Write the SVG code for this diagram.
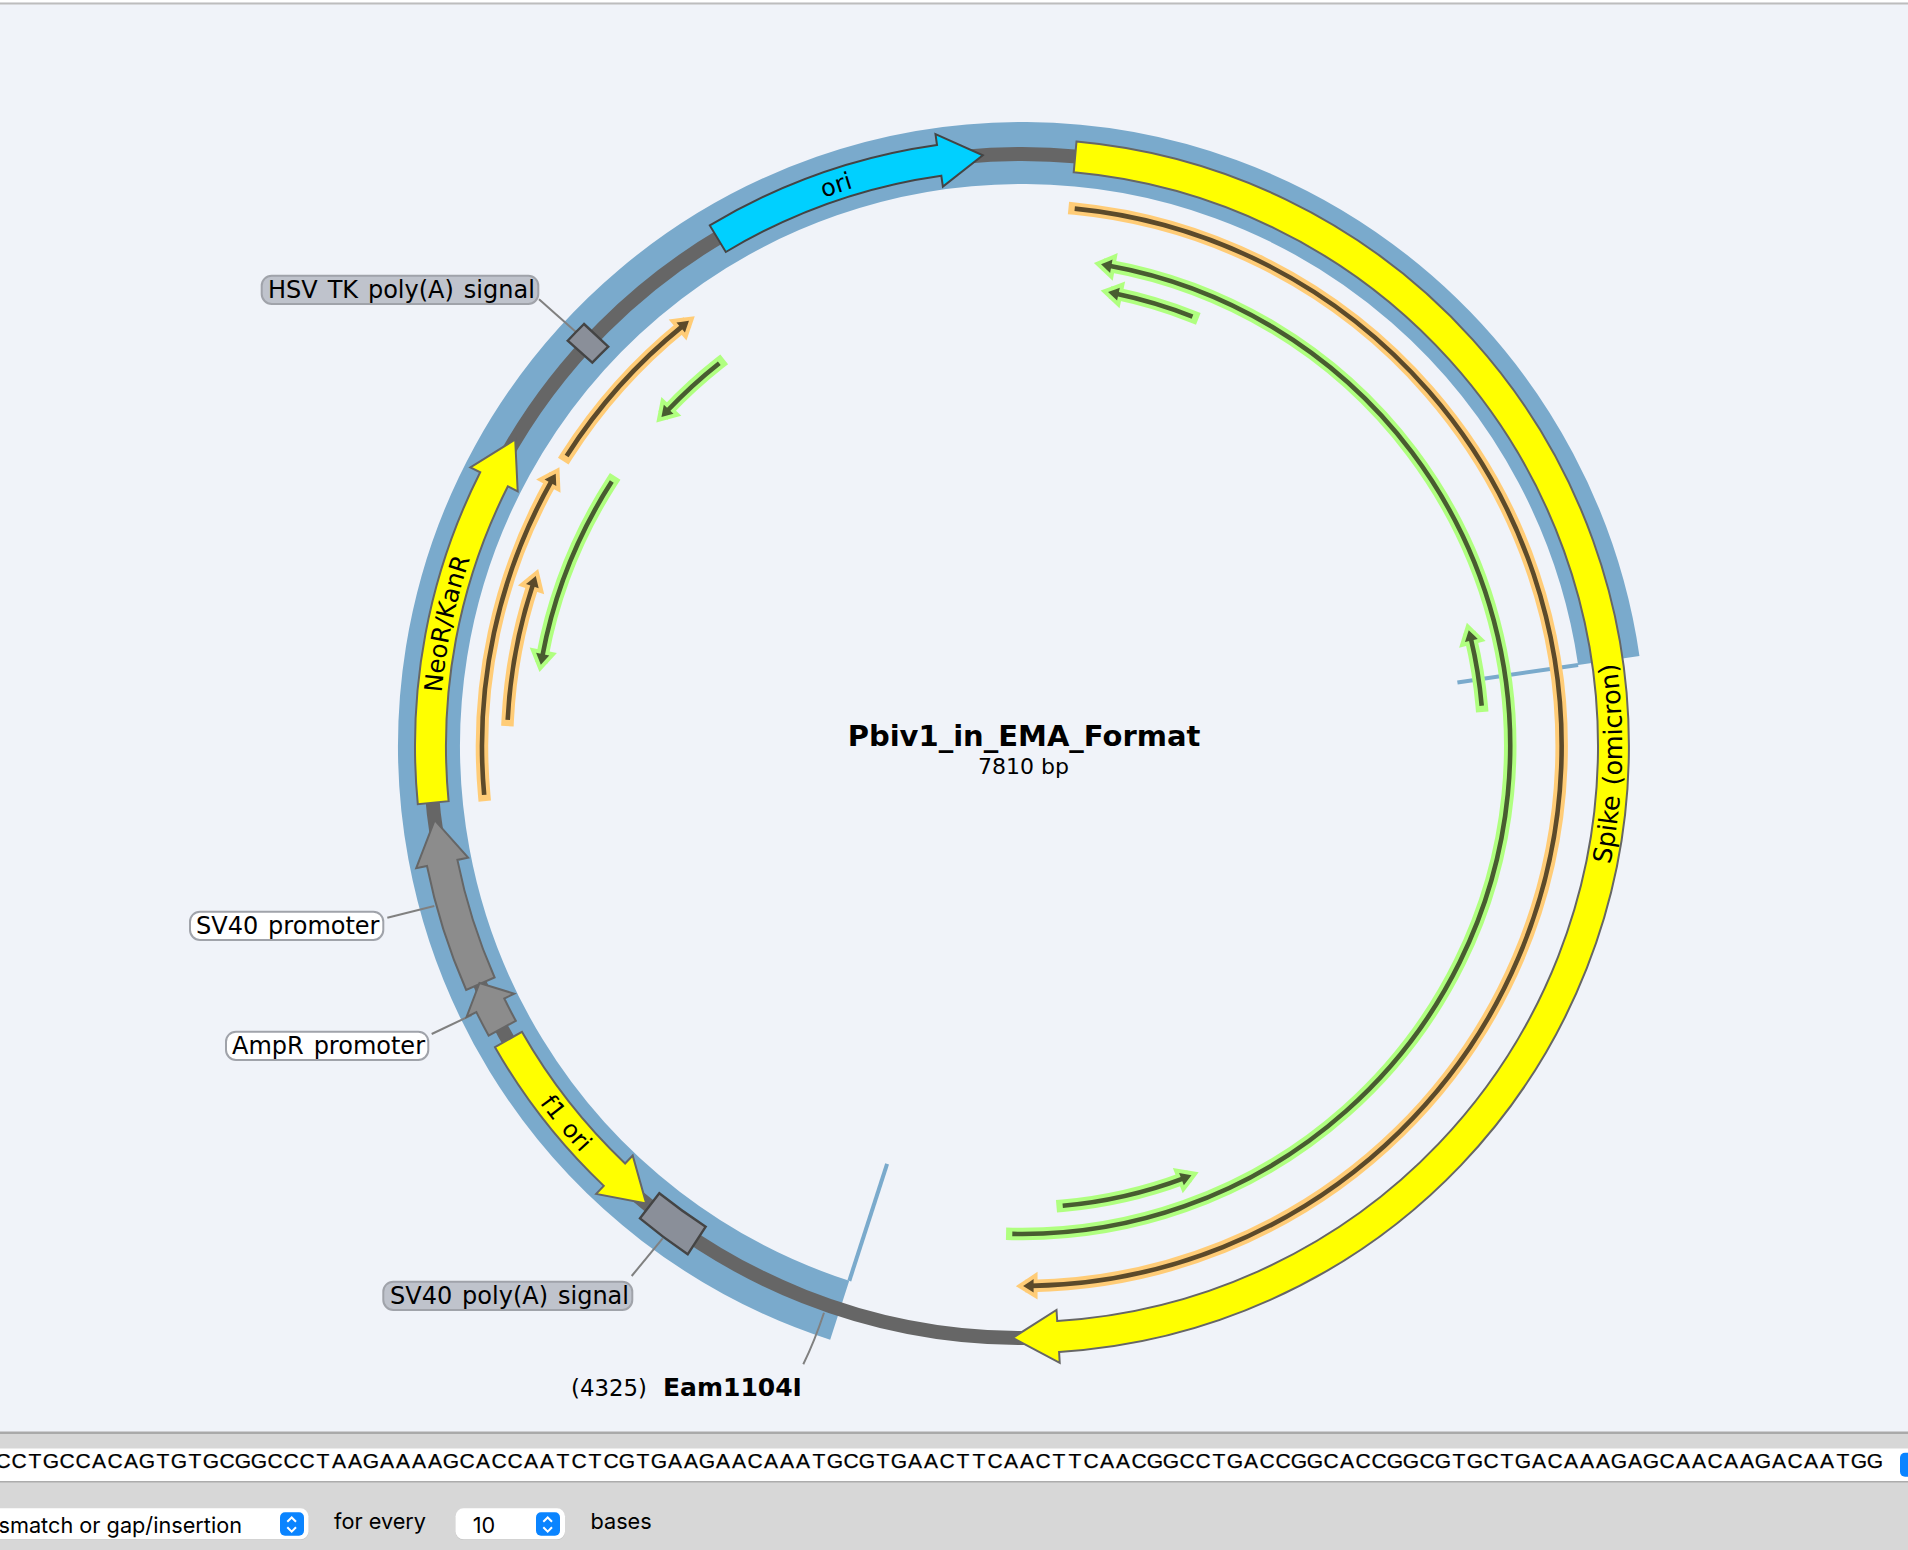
<svg xmlns="http://www.w3.org/2000/svg" xmlns:xlink="http://www.w3.org/1999/xlink" width="1908" height="1550" viewBox="0 0 1908 1550">
<style>
text{font-family:"DejaVu Sans",Verdana,sans-serif;fill:#000}
.lbl{font-size:24px;word-spacing:2.3px}
.bold{font-weight:bold}
.feat{stroke:#666;stroke-width:2;stroke-linejoin:miter}
.yel{fill:#ffff00}
.gry{fill:#8c8c8c}
.site{fill:#8a8f99;stroke:#444;stroke-width:2.4}
.leader{stroke:#808080;stroke-width:2;fill:none}
.cut{stroke:#7aaacc;stroke-width:4;fill:none}
.tag{stroke:#a0a3aa;stroke-width:2}
.sh{fill:none}
.oh{stroke:#ffcc77;fill:#ffcc77;stroke-width:12.5;stroke-linecap:square}
.od{stroke:#5c4a2a;fill:#5c4a2a;stroke-width:4.6}
.gh{stroke:#b0ff80;fill:#b0ff80;stroke-width:12.5;stroke-linecap:square}
.gd{stroke:#485c30;fill:#485c30;stroke-width:4.6}
.ui{font-family:"Inter","Liberation Sans",sans-serif;font-size:21.7px}
.seq{font-family:"Liberation Sans",Arial,sans-serif;font-size:21px;text-anchor:middle;stroke:#000;stroke-width:.25}
.btn{fill:#0a84ff}
.chev{fill:none;stroke:#fff;stroke-width:2}
</style>
<defs>
<path id="tSpike" d="M1579.5 967.9A599 599 0 0 0 1591.7 557.6"/>
<path id="tNeo" d="M447.9 847.2A583 583 0 0 1 538.7 420"/>
<path id="tOri" d="M663.1 286.6A583 583 0 0 1 1040.3 163.3"/>
<path id="tF1" d="M458.2 951.2A599 599 0 0 0 722 1265.6"/>
<g id="o1"><path class="sh" d="M1074.7 208.6A540 540 0 0 1 1031.3 1285.9"/><path d="M1031.3 1283.4L1027.4 1286L1031.3 1288.4Z"/></g>
<g id="o2"><path class="sh" d="M484.2 794.9A540 540 0 0 1 551.6 480.8"/><path d="M549.4 479.6L553.6 477.4L553.8 482Z"/></g>
<g id="o3"><path class="sh" d="M566.6 455.9A540 540 0 0 1 682.5 326.1"/><path d="M680.9 324.2L685.6 323.6L684.1 328Z"/></g>
<g id="o4"><path class="sh" d="M507.7 719.9A515 515 0 0 1 533.1 584"/><path d="M530.7 583.2L534.4 580.2L535.5 584.8Z"/></g>
<g id="g1"><path class="sh" d="M1012.3 1233.9A488 488 0 0 0 1109.1 265.8"/><path d="M1109.5 263.3L1105.2 265.1L1108.6 268.3Z"/></g>
<g id="g2"><path class="sh" d="M1192.5 316.6A462 462 0 0 0 1116.2 293.7"/><path d="M1116.7 291.3L1112.3 292.9L1115.7 296.1Z"/></g>
<g id="g3"><path class="sh" d="M719.3 363.2A488 488 0 0 0 667.1 411"/><path d="M665.3 409.3L664.4 413.9L668.9 412.7Z"/></g>
<g id="g4"><path class="sh" d="M611.8 481.6A488 488 0 0 0 542.3 656.4"/><path d="M539.8 655.9L541.6 660.4L544.8 656.9Z"/></g>
<g id="g5"><path class="sh" d="M1481.7 705.8A461.5 461.5 0 0 0 1470.8 638.3"/><path d="M1473.2 637.7L1469.8 634.4L1468.4 638.9Z"/></g>
<g id="g6"><path class="sh" d="M1062.7 1205.7A461.5 461.5 0 0 0 1183.6 1178.3"/><path d="M1184.5 1180.6L1187.4 1176.8L1182.7 1176Z"/></g>
</defs>

<rect width="1908" height="1550" fill="#f0f3f9"/>
<rect width="1908" height="2.5" fill="#fff"/>
<rect y="2.5" width="1908" height="2" fill="#bdbdbd"/>

<g id="map-ring">
<path d="M839.7 1310.3A593 593 0 1 1 1608.8 660.4" fill="none" stroke="#7aaacc" stroke-width="62"/>
<circle cx="1022" cy="746" r="592" fill="none" stroke="#666" stroke-width="14"/>
</g>

<g id="connectors">
<path class="cut" d="M1457.4 682.5L1578.1 664.9"/>
<path class="cut" d="M887.1 1163.8L849.3 1280.8"/>
<path class="leader" d="M539 299.3L575.7 331.7"/>
<path class="leader" d="M387.3 917.7L434.3 906"/>
<path class="leader" d="M431.7 1034L471.7 1015"/>
<path class="leader" d="M631.7 1276L662.7 1238.3"/>
<path class="leader" d="M803.3 1364.3Q815 1340 824 1312.7"/>
</g>

<g id="primers">
<use href="#o1" class="oh"/><use href="#o1" class="od"/>
<use href="#o2" class="oh"/><use href="#o2" class="od"/>
<use href="#o3" class="oh"/><use href="#o3" class="od"/>
<use href="#o4" class="oh"/><use href="#o4" class="od"/>
<use href="#g1" class="gh"/><use href="#g1" class="gd"/>
<use href="#g2" class="gh"/><use href="#g2" class="gd"/>
<use href="#g3" class="gh"/><use href="#g3" class="gd"/>
<use href="#g4" class="gh"/><use href="#g4" class="gd"/>
<use href="#g5" class="gh"/><use href="#g5" class="gd"/>
<use href="#g6" class="gh"/><use href="#g6" class="gd"/>
</g>

<g id="spike">
<path class="feat yel" d="M1076.5 141.5A607 607 0 0 1 1059.1 1351.9L1059.7 1362.8L1012.7 1337.9L1056.5 1310L1057.2 1320.9A576 576 0 0 0 1073.7 172.3Z"/>
<text class="lbl" font-size="25.5" style="font-size:25.5px"><textPath href="#tSpike" startOffset="50%" text-anchor="middle">Spike (omicron)</textPath></text>
</g>
<g id="ori">
<path class="feat" fill="#00d0ff" style="stroke:#444" d="M709.8 225.4A607 607 0 0 1 937 145L935.5 134.1L982.8 155.3L942.9 186.6L941.3 175.7A576 576 0 0 0 725.8 252Z"/>
<text class="lbl"><textPath href="#tOri" startOffset="49.4%" text-anchor="middle">ori</textPath></text>
</g>
<g id="neor-kanr">
<path class="feat yel" d="M417.8 804.2A607 607 0 0 1 480.2 472.3L470.4 467.4L515.2 439.5L517.7 491.3L507.9 486.3A576 576 0 0 0 448.6 801.2Z"/>
<text class="lbl" style="font-size:24.6px"><textPath href="#tNeo" startOffset="50%" text-anchor="middle">NeoR/KanR</textPath></text>
</g>
<g id="sv40-promoter">
<path class="feat gry" d="M466.2 990A607 607 0 0 1 427 866L416.2 868.2L434.7 820.2L468.1 857.7L457.4 859.9A576 576 0 0 0 494.6 977.5Z"/>
<rect class="tag" x="190" y="911.7" width="193.3" height="28.3" rx="10" fill="#fff"/>
<text class="lbl" x="196" y="934.3">SV40 promoter</text>
</g>
<g id="ampr-promoter">
<path class="feat gry" d="M488.6 1035.6A607 607 0 0 1 476.4 1012.1L466.6 1016.9L479.5 983L514.2 993.7L504.3 998.5A576 576 0 0 0 515.8 1020.8Z"/>
<rect class="tag" x="226" y="1031.7" width="202.3" height="28.3" rx="10" fill="#fff"/>
<text class="lbl" x="232" y="1054.3">AmpR promoter</text>
</g>
<g id="f1-ori">
<path class="feat yel" d="M495 1047.2A607 607 0 0 0 603.8 1185.9L596.2 1193.9L646.2 1203.4L632.7 1155.5L625.1 1163.5A576 576 0 0 1 521.9 1031.8Z"/>
<text class="lbl"><textPath href="#tF1" startOffset="49%" text-anchor="middle">f1 ori</textPath></text>
</g>
<g id="sv40-polya">
<path class="site" d="M659.3 1193.3A576 576 0 0 0 705.7 1226.7L687.7 1254.3A608 608 0 0 1 640 1218.3Z"/>
<rect class="tag" x="383.3" y="1281.7" width="249" height="28.3" rx="10" fill="#bfc3cc"/>
<text class="lbl" x="390" y="1304">SV40 poly(A) signal</text>
</g>
<g id="hsv-tk-polya">
<path class="site" d="M584 324L608.3 346.7A575 575 0 0 0 592.3 362.7L567.7 340.7A608 608 0 0 1 584 324Z"/>
<rect class="tag" x="261.7" y="275.7" width="276.6" height="28.3" rx="10" fill="#bfc3cc"/>
<text class="lbl" x="268" y="297.7">HSV TK poly(A) signal</text>
</g>
<g id="eam1104i">
<text class="lbl" style="font-size:22.8px" x="571" y="1396">(4325)</text>
<text class="lbl bold" style="font-size:25px" x="663" y="1396">Eam1104I</text>
</g>
<g id="title">
<text class="bold" x="1024" y="746" font-size="29" text-anchor="middle">Pbiv1_in_EMA_Format</text>
<text x="1023.5" y="774" font-size="22" text-anchor="middle">7810 bp</text>
</g>

<g id="footer">
<rect y="1432" width="1908" height="118" fill="#d7d7d7"/>
<rect y="1431.5" width="1908" height="2.5" fill="#a9a9a9"/>
<rect y="1448.5" width="1908" height="32.5" fill="#fff"/>
<rect y="1481" width="1908" height="1.5" fill="#acacac"/>
<text class="seq" y="1468.3" x="3 19 35 51 67 83 99 115 131 147 163 179 195 211 227 243 259 275 291 307 323 339 355 371 387 403 419 435 451 467 483 499 515 531 547 563 579 595 611 627 643 659 675 691 707 723 739 755 771 787 803 819 835 851 867 883 899 915 931 947 963 979 995 1011 1027 1043 1059 1075 1091 1107 1123 1139 1155 1171 1187 1203 1219 1235 1251 1267 1283 1299 1315 1331 1347 1363 1379 1395 1411 1427 1443 1459 1475 1491 1507 1523 1539 1555 1571 1587 1603 1619 1635 1651 1667 1683 1699 1715 1731 1747 1763 1779 1795 1811 1827 1843 1859 1875">CCTGCCACAGTGTGCGGCCCTAAGAAAAGCACCAATCTCGTGAAGAACAAATGCGTGAACTTCAACTTCAACGGCCTGACCGGCACCGGCGTGCTGACAAAGAGCAACAAGACAATGG</text>
<rect class="btn" x="1900" y="1452.7" width="20" height="24" rx="5"/>
<rect x="-20" y="1509" width="328.5" height="31" rx="8" fill="#c4c4c4"/>
<rect x="-20" y="1508.3" width="328.5" height="31" rx="8" fill="#fff"/>
<text class="ui" x="242" y="1532.7" text-anchor="end">smatch or gap/insertion</text>
<rect class="btn" x="280" y="1512.3" width="24" height="23.4" rx="5"/>
<path class="chev" d="M287.3 1521.7L291.7 1517.5L296 1521.7M287.3 1527.3L291.7 1531.7L296 1527.3"/>
<text class="ui" x="334" y="1529.3">for every</text>
<rect x="455.5" y="1509" width="109.5" height="31" rx="8" fill="#c4c4c4"/>
<rect x="455.5" y="1508.3" width="109.5" height="31" rx="8" fill="#fff"/>
<text class="ui" x="472.7" y="1532.7">10</text>
<rect class="btn" x="536" y="1512.3" width="24" height="23.4" rx="5"/>
<path class="chev" d="M543.3 1521.7L547.7 1517.5L552 1521.7M543.3 1527.3L547.7 1531.7L552 1527.3"/>
<text class="ui" x="590.5" y="1529.3">bases</text>
</g>
</svg>
